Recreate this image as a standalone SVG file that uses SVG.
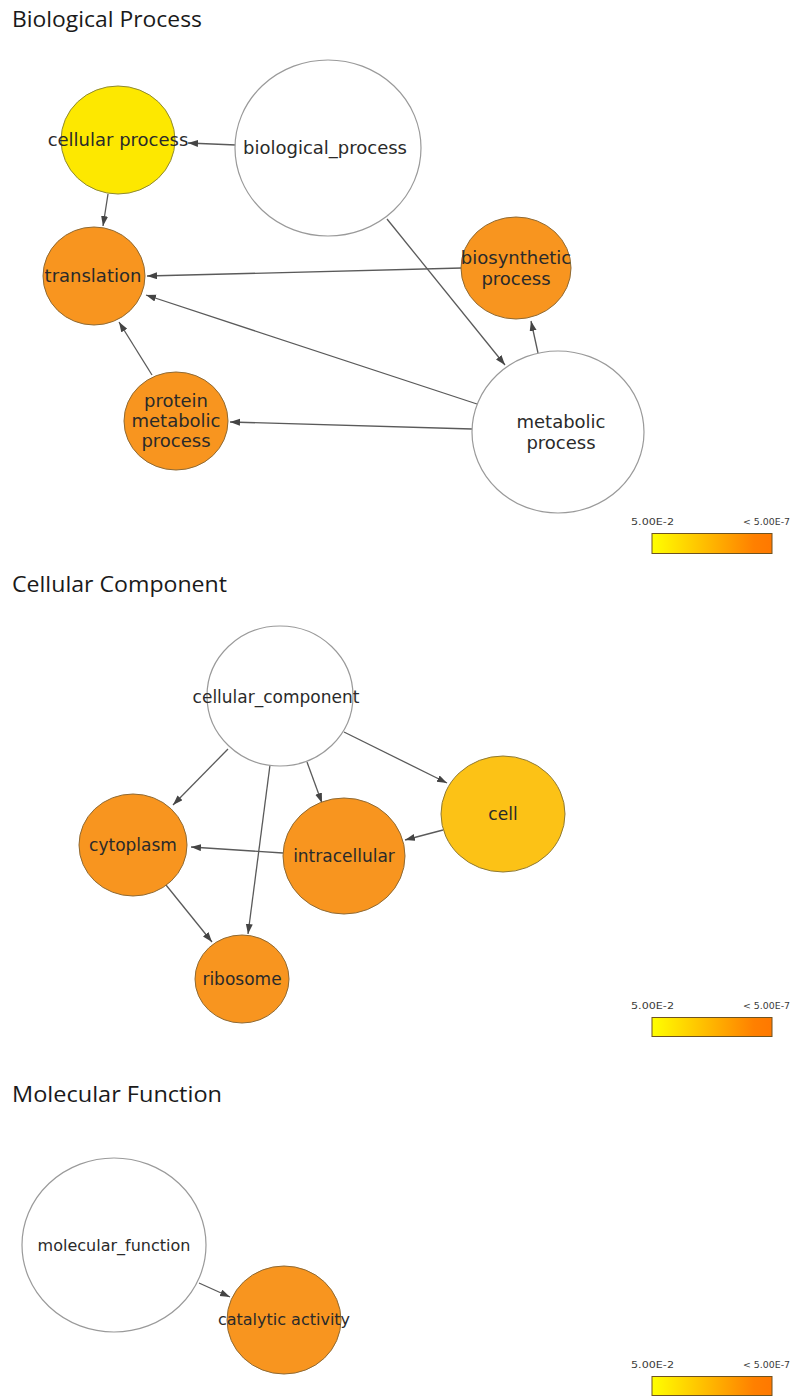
<svg xmlns="http://www.w3.org/2000/svg" width="795" height="1396" viewBox="0 0 795 1396">
<style>
.title{font-family:"Open Sans","Liberation Sans",sans-serif;font-size:21px;fill:#1a1a1a}
.lbl{font-family:"DejaVu Sans",sans-serif;fill:#2a2a2a;text-anchor:middle}
.bp{font-size:18px}
.cc{font-size:17px}
.mf{font-size:16px}
.white{fill:#ffffff;stroke:#9a9a9a;stroke-width:1.2}
.orange{fill:#f8951f;stroke:#8f6a34;stroke-width:1}
.gold{fill:#fcc216;stroke:#8f7a34;stroke-width:1}
.yellow{fill:#fde800;stroke:#8f8a34;stroke-width:1}
.edge{stroke:#5a5a5a;stroke-width:1.3;fill:none;marker-end:url(#arr)}
.leg{font-family:"DejaVu Sans",sans-serif;font-size:9.5px;fill:#3a3a3a}
.bar{fill:url(#grad);stroke:#6e5320;stroke-width:1}
</style>
<defs>
<marker id="arr" markerUnits="userSpaceOnUse" markerWidth="10" markerHeight="8" refX="10" refY="3.5" orient="auto">
<path d="M0,0 L10,3.5 L0,7 z" fill="#444"/>
</marker>
<linearGradient id="grad" x1="0" y1="0" x2="1" y2="0">
<stop offset="0" stop-color="#ffff00"/>
<stop offset="0.85" stop-color="#ff8000"/>
<stop offset="1" stop-color="#ff7800"/>
</linearGradient>
</defs>
<rect width="795" height="1396" fill="#ffffff"/>

<text class="title" x="12" y="27" textLength="190" lengthAdjust="spacingAndGlyphs">Biological Process</text>
<text class="title" x="12" y="592" textLength="215" lengthAdjust="spacingAndGlyphs">Cellular Component</text>
<text class="title" x="12" y="1102" textLength="210" lengthAdjust="spacingAndGlyphs">Molecular Function</text>

<g id="connectors">
<line class="edge" x1="236" y1="145" x2="188" y2="143"/>
<line class="edge" x1="108" y1="194" x2="103" y2="226"/>
<line class="edge" x1="387" y1="219" x2="505" y2="365"/>
<line class="edge" x1="462" y1="268" x2="147" y2="276"/>
<line class="edge" x1="477" y1="404" x2="146" y2="295"/>
<line class="edge" x1="472" y1="429" x2="230" y2="422"/>
<line class="edge" x1="538" y1="353" x2="531" y2="321"/>
<line class="edge" x1="152" y1="375" x2="119" y2="322"/>

<line class="edge" x1="228" y1="749" x2="173" y2="805"/>
<line class="edge" x1="270" y1="765" x2="248" y2="934"/>
<line class="edge" x1="307" y1="762" x2="322" y2="803"/>
<line class="edge" x1="344" y1="732" x2="447" y2="783"/>
<line class="edge" x1="443" y1="830" x2="405" y2="840"/>
<line class="edge" x1="283" y1="853" x2="191" y2="847"/>
<line class="edge" x1="166" y1="885" x2="212" y2="942"/>

<line class="edge" x1="199" y1="1283" x2="230" y2="1297"/>
</g>

<g id="n-biological_process">
<ellipse class="white" cx="328" cy="148" rx="93" ry="88"/>
<text class="lbl bp" x="325" y="154">biological_process</text>
</g>
<g id="n-cellular_process">
<ellipse class="yellow" cx="118" cy="140" rx="57" ry="54"/>
<text class="lbl bp" x="118" y="146">cellular process</text>
</g>
<g id="n-translation">
<ellipse class="orange" cx="94" cy="276" rx="51" ry="49"/>
<text class="lbl bp" x="93" y="282">translation</text>
</g>
<g id="n-biosynthetic_process">
<ellipse class="orange" cx="516" cy="268" rx="55" ry="51"/>
<text class="lbl bp" x="516" y="264">biosynthetic</text>
<text class="lbl bp" x="516" y="285">process</text>
</g>
<g id="n-protein_metabolic_process">
<ellipse class="orange" cx="176" cy="421" rx="52" ry="49"/>
<text class="lbl bp" x="176" y="407">protein</text>
<text class="lbl bp" x="176" y="427">metabolic</text>
<text class="lbl bp" x="176" y="447">process</text>
</g>
<g id="n-metabolic_process">
<ellipse class="white" cx="558" cy="432" rx="86" ry="81"/>
<text class="lbl bp" x="561" y="428">metabolic</text>
<text class="lbl bp" x="561" y="449">process</text>
</g>

<g id="legend-bp">
<text class="leg" x="631" y="525" textLength="43" lengthAdjust="spacingAndGlyphs">5.00E-2</text>
<text class="leg" x="743" y="525" textLength="47" lengthAdjust="spacingAndGlyphs">&lt; 5.00E-7</text>
<rect class="bar" x="652" y="533.5" width="120" height="20"/>
</g>

<g id="n-cellular_component">
<ellipse class="white" cx="280" cy="696" rx="73" ry="70"/>
<text class="lbl cc" x="276" y="703">cellular_component</text>
</g>
<g id="n-cytoplasm">
<ellipse class="orange" cx="133" cy="845" rx="54" ry="51"/>
<text class="lbl cc" x="133" y="851">cytoplasm</text>
</g>
<g id="n-intracellular">
<ellipse class="orange" cx="344" cy="856" rx="61" ry="58"/>
<text class="lbl cc" x="344" y="862">intracellular</text>
</g>
<g id="n-cell">
<ellipse class="gold" cx="503" cy="814" rx="62" ry="58"/>
<text class="lbl cc" x="503" y="820">cell</text>
</g>
<g id="n-ribosome">
<ellipse class="orange" cx="242" cy="979" rx="47" ry="44"/>
<text class="lbl cc" x="242" y="985">ribosome</text>
</g>

<g id="legend-cc">
<text class="leg" x="631" y="1009" textLength="43" lengthAdjust="spacingAndGlyphs">5.00E-2</text>
<text class="leg" x="743" y="1009" textLength="47" lengthAdjust="spacingAndGlyphs">&lt; 5.00E-7</text>
<rect class="bar" x="652" y="1017.5" width="120" height="19"/>
</g>

<g id="n-molecular_function">
<ellipse class="white" cx="114" cy="1245" rx="92" ry="87"/>
<text class="lbl mf" x="114" y="1251">molecular_function</text>
</g>
<g id="n-catalytic_activity">
<ellipse class="orange" cx="284" cy="1320" rx="57" ry="54"/>
<text class="lbl mf" x="284" y="1325">catalytic activity</text>
</g>

<g id="legend-mf">
<text class="leg" x="631" y="1368" textLength="43" lengthAdjust="spacingAndGlyphs">5.00E-2</text>
<text class="leg" x="743" y="1368" textLength="47" lengthAdjust="spacingAndGlyphs">&lt; 5.00E-7</text>
<rect class="bar" x="652" y="1376.5" width="120" height="19"/>
</g>
</svg>
